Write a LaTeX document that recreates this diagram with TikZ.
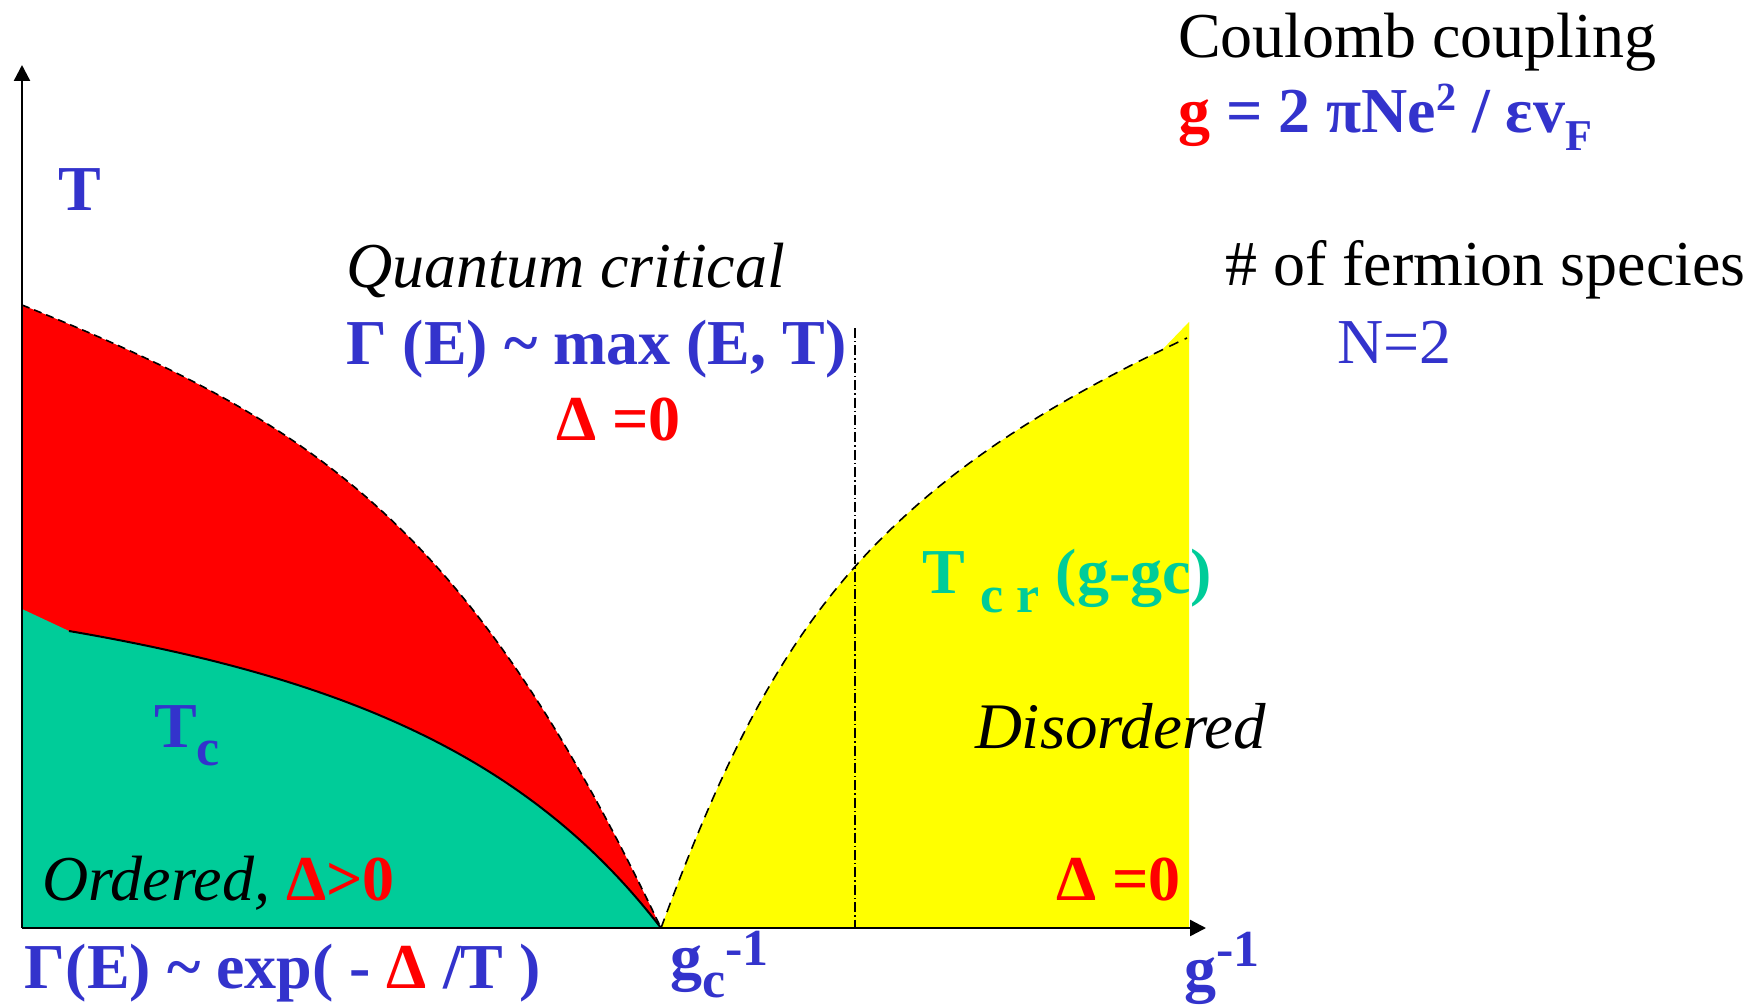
\documentclass[tikz,border=0pt]{standalone}
\usepackage{fontspec}
\setmainfont{Liberation Serif}
\usetikzlibrary{arrows.meta}
\definecolor{tblue}{RGB}{51,51,204}
\definecolor{tgreen}{RGB}{0,204,153}
\definecolor{tred}{RGB}{255,0,0}
\definecolor{tyellow}{RGB}{255,255,0}
\newcommand{\bigf}{\fontsize{32}{38}\selectfont}
\newcommand{\subf}{\fontsize{26}{30}\selectfont}
\newcommand{\lowr}[2]{\raisebox{-#1}{\subf #2}}
\newcommand{\upr}[2]{\raisebox{#1}{\subf #2}}
\begin{document}
\begin{tikzpicture}[x=0.5pt,y=-0.5pt,
  txt/.style={anchor=base west, inner sep=0pt, outer sep=0pt, font=\bigf},
  txtbf/.style={txt, font=\bigf\bfseries},
  txtit/.style={txt, font=\bigf\itshape},
  axisline/.style={line width=1.2pt, -{Triangle[length=8pt,width=8pt]}},
  redbound/.style={black, line width=0.8pt, dash pattern=on 4pt off 2.5pt},
  yelbound/.style={black, line width=0.8pt, dash pattern=on 5pt off 3.5pt},
  tcline/.style={black, line width=1pt},
  dashdot/.style={black, line width=0.7pt, dash pattern=on 5pt off 1.5pt on 0.7pt off 1.5pt}]
\useasboundingbox (0,0) rectangle (1762,1006);
\coordinate (O) at (22,928);
\coordinate (Ytop) at (22,65);
\coordinate (Xend) at (1206,928);
\coordinate (gcpt) at (661,928);
\coordinate (redtop) at (22,305);
\coordinate (kink) at (69,631);
\coordinate (yelend) at (1187,338);
% red region
\fill[tred] (redtop) .. controls (322,425) and (471,529) .. (gcpt) -- (O) -- cycle;
% green region
\fill[tgreen] (22,609) -- (kink) .. controls (349,679) and (531,759) .. (gcpt) -- (O) -- cycle;
\draw[tcline] (kink) .. controls (349,679) and (531,759) .. (gcpt);
% yellow region
\fill[tyellow] (gcpt) .. controls (771,631) and (867,488) .. (yelend) -- (1189,322) -- (1189,928) -- cycle;
\fill[tyellow] (1160,352) -- (1189,322) -- (1189,342) -- cycle;
% boundaries
\draw[redbound] (redtop) .. controls (322,425) and (471,529) .. (gcpt);
\draw[yelbound] (gcpt) .. controls (771,631) and (867,488) .. (yelend);
\coordinate (vtop) at (855,328);
\coordinate (vbot) at (855,928);
\draw[dashdot] (vtop) -- (vbot);
% axes
\draw[axisline] (O) -- (Ytop);
\draw[axisline] (O) -- (Xend);
% texts
\node[txtbf, tblue] (Tax) at (58,210) {T};
\node[txt] (cc) at (1178,58) {Coulomb coupling};
\node[txtbf, tblue] (gdef) at (1178,133) {\textcolor{tred}{g} = 2 πNe\raisebox{11pt}{\fontsize{20}{22}\selectfont 2} / εv\raisebox{-9pt}{\fontsize{22}{24}\selectfont F}};
\node[txt] (nspec) at (1225,285) {\# of fermion species};
\node[txt, tblue] (N2) at (1337,363) {N=2};
\node[txtit] (qc) at (346,287) {Quantum critical};
\node[txtbf, tblue] (gqc) at (346,364) {Γ (E) \textasciitilde{} max (E, T)};
\node[txtbf, tred] (d0a) at (556,440) {Δ =0};
\node[txtbf, tblue] (Tc) at (154,747) {T\lowr{9pt}{c}};
\node[txtit] (ord) at (42,900) {Ordered, \textcolor{tred}{\upshape\bfseries Δ>0}};
\node[txtbf, tblue] (gexp) at (25,988) {Γ(E) \textasciitilde{} exp( - \textcolor{tred}{Δ} /T )};
\node[txtbf, tblue] (gc) at (670,978) {g\lowr{9.5pt}{c}\upr{6.5pt}{-1}};
\node[txtbf, tblue] (ginv) at (1184,990) {g\upr{12pt}{-1}};
\node[txtbf, tgreen] (Tcr) at (922,593) {T \lowr{9.5pt}{c r} (g-gc)};
\node[txtit, font=\fontsize{32.5}{38}\selectfont\itshape] (dis) at (975,748) {Disordered};
\node[txtbf, tred] (d0b) at (1056,900) {Δ =0};
\end{tikzpicture}
\end{document}
